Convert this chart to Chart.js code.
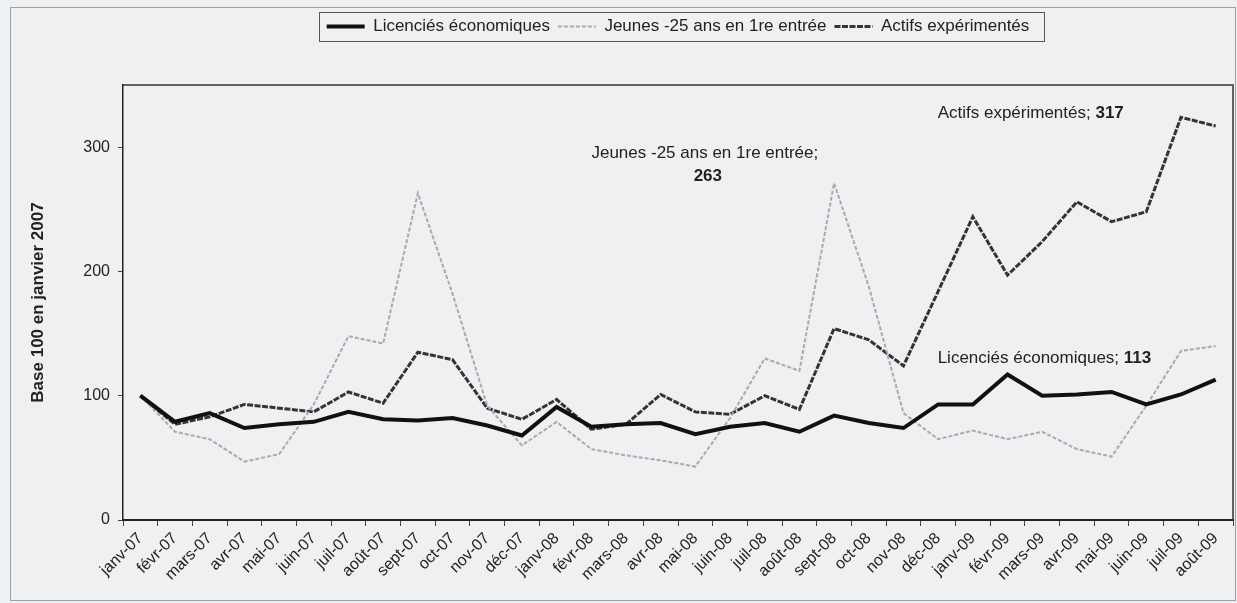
<!DOCTYPE html>
<html>
<head>
<meta charset="utf-8">
<script src="https://cdn.jsdelivr.net/npm/chart.js@4.4.1/dist/chart.umd.min.js"></script>
<style>
	html, body { margin: 0; padding: 0; background: #eef0f2; }
	#wrap { position: relative; width: 1237px; height: 603px; }
</style>
</head>
<body>
<div id="wrap"><canvas id="chart" width="1237" height="603"></canvas></div>
<script>
// |------------|
// |   Données  |
// |------------|

const months = [
	'janv-07', 'févr-07', 'mars-07', 'avr-07', 'mai-07', 'juin-07', 'juil-07', 'août-07',
	'sept-07', 'oct-07', 'nov-07', 'déc-07', 'janv-08', 'févr-08', 'mars-08', 'avr-08',
	'mai-08', 'juin-08', 'juil-08', 'août-08', 'sept-08', 'oct-08', 'nov-08', 'déc-08',
	'janv-09', 'févr-09', 'mars-09', 'avr-09', 'mai-09', 'juin-09', 'juil-09', 'août-09'
]

const licencies = [100, 79, 86, 74, 77, 79, 87, 81, 80, 82, 76, 68, 91, 75, 77, 78,
	69, 75, 78, 71, 84, 78, 74, 93, 93, 117, 100, 101, 103, 93, 101, 113]

const jeunes = [100, 71, 65, 47, 53, 93, 148, 142, 263, 182, 92, 60, 79, 57, 52, 48,
	43, 82, 130, 120, 271, 188, 86, 65, 72, 65, 71, 57, 51, 92, 136, 140]

const actifs = [100, 77, 83, 93, 90, 87, 103, 94, 135, 129, 90, 81, 97, 73, 77, 101,
	87, 85, 100, 89, 154, 145, 124, 184, 244, 197, 224, 256, 240, 248, 324, 317]

const yTicks = [0, 100, 200, 300]

const FONT = '"Liberation Sans", Arial, Helvetica, sans-serif'
Chart.defaults.font.family = FONT
Chart.defaults.color = '#222'

// fond, cadre général, bordure du graphique et cadre de la légende
const frames = {
	id: 'frames',
	beforeDraw(chart) {
		const ctx = chart.ctx
		ctx.save()
		ctx.fillStyle = '#eef0f2'
		ctx.fillRect(0, 0, chart.width, chart.height)
		ctx.restore()
	},
	afterDraw(chart) {
		const ctx = chart.ctx
		const a = chart.chartArea
		ctx.save()
		// cadre extérieur
		ctx.strokeStyle = '#9aa0a8'
		ctx.lineWidth = 1
		ctx.strokeRect(10.5, 7.5, chart.width - 12, chart.height - 10)
		// haut et droite de la zone de tracé
		ctx.strokeStyle = '#333'
		ctx.lineWidth = 1.5
		ctx.beginPath()
		ctx.moveTo(a.left, a.top)
		ctx.lineTo(a.right, a.top)
		ctx.lineTo(a.right, a.bottom)
		ctx.stroke()
		// cadre de la légende
		const boxes = chart.legend.legendHitBoxes
		if (boxes && boxes.length) {
			const l = boxes[0].left - 8
			const r = boxes[boxes.length - 1].left + boxes[boxes.length - 1].width + 14
			const t = boxes[0].top - 6
			const b = boxes[0].top + boxes[0].height + 6
			ctx.strokeStyle = '#555'
			ctx.lineWidth = 1
			ctx.strokeRect(Math.round(l) + 0.5, Math.round(t) + 0.5, Math.round(r - l), Math.round(b - t))
		}
		ctx.restore()
	}
}

// étiquettes de valeur "série; valeur" placées à côté d'un point
const pointLabels = {
	id: 'pointLabels',
	afterDatasetsDraw(chart, args, opts) {
		const ctx = chart.ctx
		ctx.save()
		ctx.fillStyle = '#222'
		ctx.textBaseline = 'middle'
		for (const item of opts.items) {
			const ds = chart.data.datasets[item.dataset]
			const pt = chart.getDatasetMeta(item.dataset).data[item.index]
			const value = String(ds.data[item.index])
			const name = ds.label + ';'
			const x = pt.x + item.dx
			const y = pt.y + item.dy
			if (item.twoLines) {
				ctx.textAlign = 'center'
				ctx.font = '17px ' + FONT
				ctx.fillText(name, x, y)
				ctx.font = 'bold 17px ' + FONT
				ctx.fillText(value, x + 3, y + 23)
			} else {
				ctx.textAlign = 'left'
				ctx.font = '17px ' + FONT
				ctx.fillText(name + ' ', x, y)
				const w = ctx.measureText(name + ' ').width
				ctx.font = 'bold 17px ' + FONT
				ctx.fillText(value, x + w, y)
			}
		}
		ctx.restore()
	}
}

const ctx = document.getElementById('chart')

new Chart(ctx, {
	type: 'line',
	data: {
		labels: months,
		datasets: [
			{
				label: 'Licenciés économiques',
				data: licencies,
				borderColor: '#111',
				backgroundColor: '#111',
				borderWidth: 4,
				pointRadius: 0,
				tension: 0
			},
			{
				label: 'Jeunes -25 ans en 1re entrée',
				data: jeunes,
				borderColor: '#a8aaad',
				backgroundColor: '#a8aaad',
				borderWidth: 2,
				borderDash: [4, 2],
				pointRadius: 0,
				tension: 0
			},
			{
				label: 'Actifs expérimentés',
				data: actifs,
				borderColor: '#333436',
				backgroundColor: '#333436',
				borderWidth: 3,
				borderDash: [6, 1.5],
				pointRadius: 0,
				tension: 0
			}
		]
	},
	options: {
		responsive: false,
		animation: false,
		devicePixelRatio: 1,
		layout: {
			padding: { left: 20, right: 4, top: 10, bottom: 0 }
		},
		plugins: {
			legend: {
				display: true,
				position: 'top',
				fullSize: false,
				weight: 3000,
				labels: {
					usePointStyle: true,
					pointStyle: 'line',
					pointStyleWidth: 38,
					boxHeight: 10,
					padding: 8,
					color: '#222',
					font: { size: 17 },
					// reprendre les pointillés des séries dans la légende
					generateLabels(chart) {
						const items = Chart.defaults.plugins.legend.labels.generateLabels(chart)
						items.forEach(it => {
							const ds = chart.data.datasets[it.datasetIndex]
							it.lineDash = ds.borderDash || []
							it.lineWidth = ds.borderWidth
						})
						return items
					}
				}
			},
			// espace vide entre la légende et la zone de tracé
			title: {
				display: true,
				text: '',
				font: { size: 10 },
				padding: { top: 14, bottom: 14 }
			},
			tooltip: { enabled: false },
			pointLabels: {
				items: [
					{ dataset: 1, index: 8, dx: 287, dy: -40, twoLines: true },
					{ dataset: 2, index: 31, dx: -278, dy: -13 },
					{ dataset: 0, index: 31, dx: -278, dy: -21 }
				]
			}
		},
		scales: {
			x: {
				offset: true,
				grid: {
					display: true,
					offset: true,
					drawOnChartArea: false,
					tickLength: 6,
					color: '#444'
				},
				border: { display: true, color: '#222', width: 2 },
				ticks: {
					autoSkip: false,
					maxRotation: 45,
					minRotation: 45,
					padding: 3,
					color: '#222',
					font: { size: 16 }
				},
				afterFit(scale) { scale.height = 83 }
			},
			y: {
				min: 0,
				max: 350,
				afterBuildTicks(scale) { scale.ticks = yTicks.map(v => ({ value: v })) },
				grid: {
					drawOnChartArea: false,
					tickLength: 5,
					color: '#444'
				},
				border: { display: true, color: '#222', width: 1.5 },
				ticks: {
					padding: 8,
					color: '#222',
					font: { size: 16 }
				},
				title: {
					display: true,
					text: 'Base 100 en janvier 2007',
					color: '#222',
					font: { size: 17, weight: 'bold' },
					padding: { top: 8, bottom: 0 }
				},
				afterFit(scale) { scale.width = 103 }
			}
		}
	},
	plugins: [frames, pointLabels]
})
</script>
</body>
</html>
